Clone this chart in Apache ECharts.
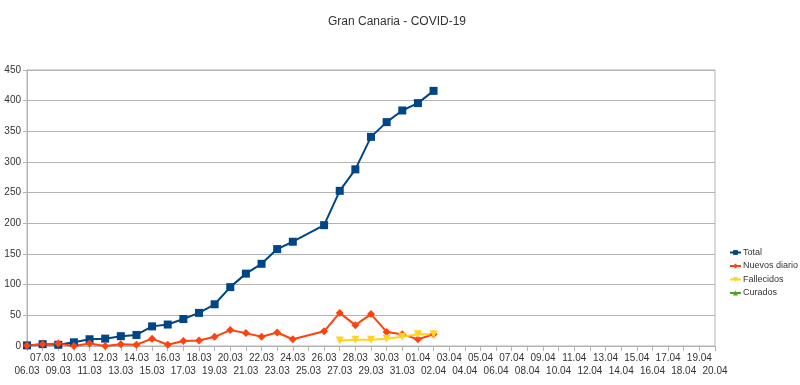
<!DOCTYPE html>
<html>
<head>
<meta charset="utf-8">
<script src="https://cdn.jsdelivr.net/npm/echarts@6/dist/echarts.min.js"></script>
<style>html,body{margin:0;padding:0;background:#fff;}#c{width:800px;height:385px;}</style>
</head>
<body>
<div id="c"></div>
<script>
var categories = ['06.03','07.03','09.03','10.03','11.03','12.03','13.03','14.03','15.03','16.03','17.03','18.03','19.03','20.03','21.03','22.03','23.03','24.03','25.03','26.03','27.03','28.03','29.03','30.03','31.03','01.04','02.04','03.04','04.04','05.04','06.04','07.04','08.04','09.04','10.04','11.04','12.04','13.04','14.04','15.04','16.04','17.04','18.04','19.04','20.04'];
var total = [1,3,2,6,11,12,16,18,32,35,44,54,68,96,118,134,158,170,null,197,253,288,341,365,384,396,416];
var nuevos = [1,3,4,0,4,0,3,2,12,2,8,9,15,26,21,15,22,11,null,24,54,34,52,23,19,11,19];
var fallecidos = [null,null,null,null,null,null,null,null,null,null,null,null,null,null,null,null,null,null,null,null,9,10,10,12,15,19,19];
var curados = [];
var yTicks = [0,50,100,150,200,250,300,350,400,450];

var chart = echarts.init(document.getElementById('c'), null, {renderer:'canvas'});
var font = 'Liberation Sans';
chart.setOption({
  animation: false,
  backgroundColor: '#ffffff',
  title: {
    text: 'Gran Canaria - COVID-19',
    left: 392, top: 11, textAlign: 'center',
    textStyle: {fontFamily: font, fontSize: 12, fontWeight: 'normal', color: '#333333'}
  },
  legend: {
    orient: 'vertical', left: 724, top: 243,
    itemWidth: 11, itemHeight: 6, itemGap: 4.5,
    textStyle: {fontFamily: font, fontSize: 9, color: '#333333', padding: [0,0,0,-3]},
    data: ['Total','Nuevos diario','Fallecidos','Curados']
  },
  grid: {left: 27, right: 85, top: 70, bottom: 39, show: true, borderColor: '#b3b3b3', borderWidth: 1},
  xAxis: {
    type: 'category', data: categories, boundaryGap: false,
    axisLine: {lineStyle: {color: '#b3b3b3'}},
    axisTick: {show: true, alignWithLabel: true, length: 5, lineStyle: {color: '#b3b3b3'}},
    axisLabel: {
      interval: 0, fontFamily: font, fontSize: 10, color: '#333333', margin: 6, lineHeight: 13,
      formatter: function (v, i) { return i % 2 === 1 ? v : '\n' + v; }
    },
    splitLine: {show: false}
  },
  yAxis: {
    type: 'value', min: yTicks[0], max: yTicks[yTicks.length-1], interval: 50,
    axisLine: {show: true, lineStyle: {color: '#b3b3b3'}},
    axisTick: {show: true, length: 4, lineStyle: {color: '#b3b3b3'}},
    axisLabel: {fontFamily: font, fontSize: 10, color: '#333333', margin: 6},
    splitLine: {lineStyle: {color: '#b3b3b3'}}
  },
  series: [
    {name: 'Total', type: 'line', data: total, connectNulls: true, color: '#004586',
     symbol: 'rect', symbolSize: 8, lineStyle: {width: 2}, itemStyle: {color: '#004586'}},
    {name: 'Nuevos diario', type: 'line', data: nuevos, connectNulls: true, color: '#ff420e',
     symbol: 'diamond', symbolSize: 8, lineStyle: {width: 2}, itemStyle: {color: '#ff420e'}},
    {name: 'Fallecidos', type: 'line', data: fallecidos, connectNulls: true, color: '#ffd320',
     symbol: 'triangle', symbolRotate: 180, symbolSize: 8, lineStyle: {width: 2}, itemStyle: {color: '#ffd320'}},
    {name: 'Curados', type: 'line', data: curados, color: '#579d1c',
     symbol: 'triangle', symbolSize: 8, lineStyle: {width: 2}, itemStyle: {color: '#579d1c'}}
  ]
});
</script>
</body>
</html>
